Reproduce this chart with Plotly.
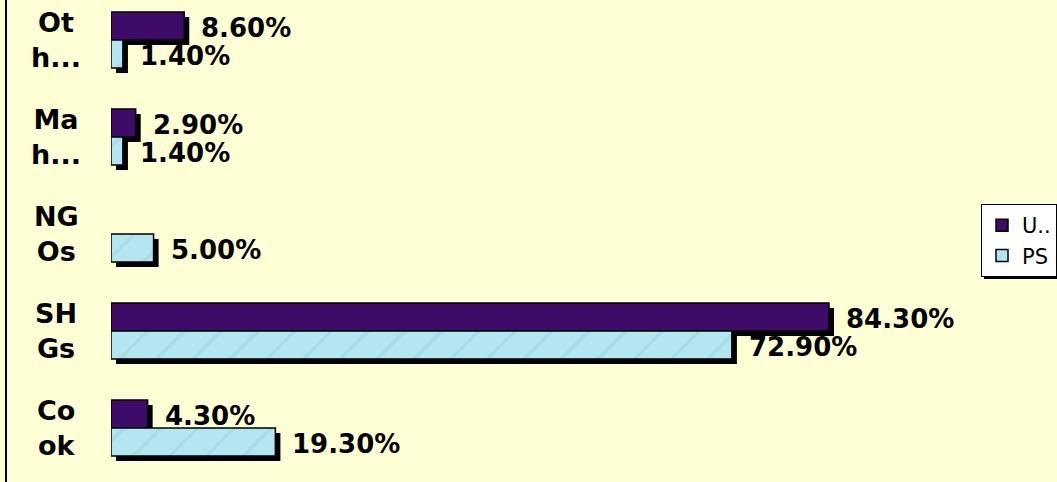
import plotly.graph_objects as go

# Categories listed bottom to top
categories = ["Co<br>ok", "SH<br>Gs", "NG<br>Os", "Ma<br>h...", "Ot<br>h..."]
series_u = [4.3, 84.3, 0.0, 2.9, 8.6]
series_ps = [19.3, 72.9, 5.0, 1.4, 1.4]
series_names = ["U..", "PS"]

BG = "#FFFFD6"
PURPLE = "#3F0B68"
BLUE = "#B3E6F0"
LABEL_FONT = dict(family="DejaVu Sans", size=26, color="black")

W, H = 1057, 482
ML = 111
BAR_W = 0.289
SH_X = 0.59      # shadow shift along the value axis
SH_Y = 0.052     # shadow shift along the category axis

LEG_SIZE = 21
LEG_TOP = 204
LEG_BOTTOM = LEG_TOP + 3 * LEG_SIZE + 9
LEG_LEFT = 981

pos = list(range(len(categories)))


def outline(vals):
    # no outline for empty bars
    return [1.5 if v > 0 else 0 for v in vals]


def px_x(px):
    return (px - ML) / (W - ML)


def px_y(py):
    return 1 - py / H


fig = go.Figure()

# drop shadows behind each bar
for vals, off in ((series_u, 0.0), (series_ps, -BAR_W)):
    fig.add_trace(go.Bar(
        x=vals, y=pos, orientation="h", base=SH_X,
        width=BAR_W, offset=off - SH_Y,
        marker=dict(color="black", line=dict(width=0)),
        showlegend=False, hoverinfo="skip",
    ))

fig.add_trace(go.Bar(
    x=series_u, y=pos, orientation="h", name=series_names[0],
    width=BAR_W, offset=0.0,
    marker=dict(color=PURPLE, line=dict(color="black", width=outline(series_u))),
))
fig.add_trace(go.Bar(
    x=series_ps, y=pos, orientation="h", name=series_names[1],
    width=BAR_W, offset=-BAR_W,
    marker=dict(color=BLUE, line=dict(color="black", width=outline(series_ps)),
                pattern=dict(shape="/", fgcolor="#86CBDD", fgopacity=0.35,
                             size=26, solidity=0.12)),
))

annotations = []
# value labels
for vals, dy in ((series_u, BAR_W / 2), (series_ps, -BAR_W / 2)):
    for p, v in zip(pos, vals):
        if v == 0:
            continue
        annotations.append(dict(
            x=v, y=p + dy - 0.02, xref="x", yref="y", text=f"{v:.2f}%",
            showarrow=False, xanchor="left", yanchor="middle", xshift=15,
            font=dict(LABEL_FONT, weight="bold"),
        ))
# category labels
for p, c in zip(pos, categories):
    annotations.append(dict(
        x=px_x(56), y=p, xref="paper", yref="y", text=c,
        showarrow=False, xanchor="center", yanchor="middle", align="center",
        font=dict(LABEL_FONT, size=27, weight="bold"),
    ))

fig.update_layout(
    width=W, height=H,
    margin=dict(l=ML, r=0, t=0, b=0),
    paper_bgcolor=BG, plot_bgcolor=BG,
    barmode="overlay",
    xaxis=dict(range=[0, (W - ML) / 8.517], visible=False),
    yaxis=dict(range=[-0.557, 4.412], visible=False),
    annotations=annotations,
    legend=dict(
        x=1, y=px_y(LEG_TOP), xanchor="right", yanchor="top",
        bgcolor="white", bordercolor="black", borderwidth=1,
        font=dict(family="DejaVu Sans", size=LEG_SIZE, color="black"),
        tracegroupgap=0, itemwidth=30,
    ),
    shapes=[
        # frame line on the left
        dict(type="line", xref="paper", yref="paper",
             x0=px_x(6), x1=px_x(6), y0=0, y1=1,
             line=dict(color="black", width=2)),
        # drop shadow under the legend box
        dict(type="rect", xref="paper", yref="paper", layer="above",
             x0=px_x(LEG_LEFT + 3), x1=px_x(W), y0=px_y(LEG_BOTTOM + 3),
             y1=px_y(LEG_BOTTOM), fillcolor="black", line=dict(width=0)),
    ],
)

fig.write_html("out.html")
